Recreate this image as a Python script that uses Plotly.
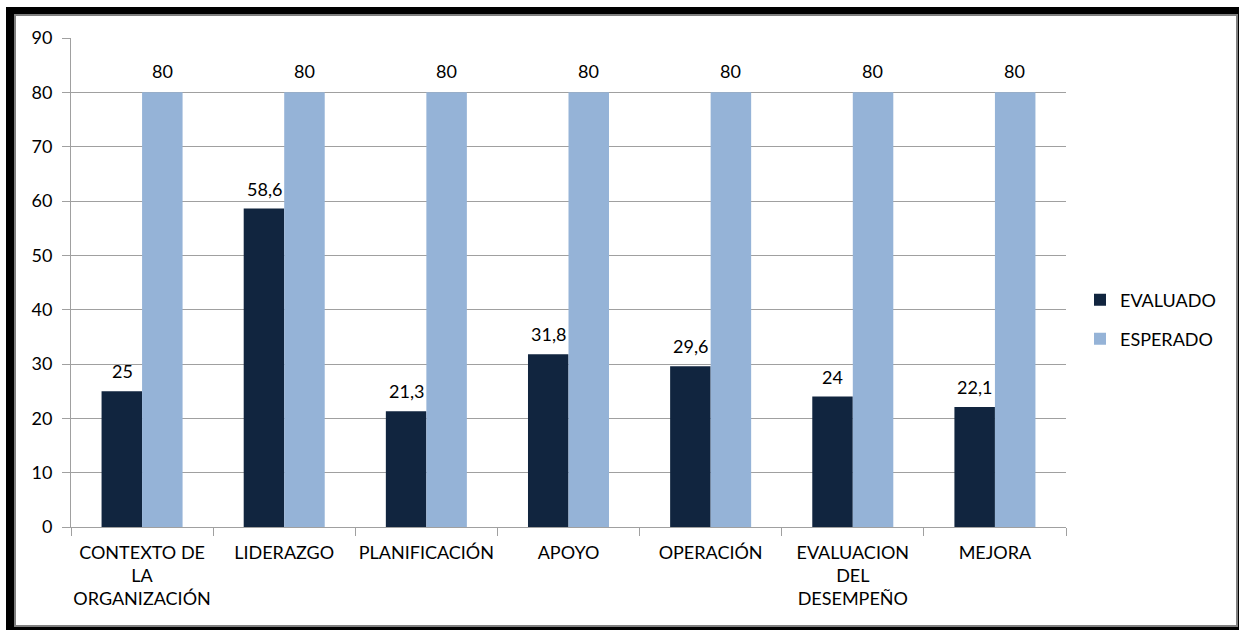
import plotly.graph_objects as go

# Chart data
categorias = ["CONTEXTO DE<br>LA<br>ORGANIZACIÓN", "LIDERAZGO", "PLANIFICACIÓN", "APOYO",
              "OPERACIÓN", "EVALUACION<br>DEL<br>DESEMPEÑO", "MEJORA"]
evaluado = [25, 58.6, 21.3, 31.8, 29.6, 24, 22.1]
esperado = [80, 80, 80, 80, 80, 80, 80]
y_ticks = [0, 10, 20, 30, 40, 50, 60, 70, 80, 90]

COL_EVAL = "#11253F"
COL_ESP = "#95B3D7"
FONT = "Lato"
FS = 18
W, H = 1239, 630
L, R, T, B = 71, 173, 38, 103


def fmt(v):
    s = f"{v:g}"
    return s.replace(".", ",")


fig = go.Figure()
fig.add_trace(go.Bar(x=categorias, y=evaluado, name="EVALUADO", marker_color=COL_EVAL,
                     marker_line_width=0, legend="legend"))
fig.add_trace(go.Bar(x=categorias, y=esperado, name="ESPERADO", marker_color=COL_ESP,
                     marker_line_width=0, legend="legend2"))

# value labels above each bar
annotations = []
for cat, v in zip(categorias, evaluado):
    annotations.append(dict(x=cat, y=v, text=fmt(v), showarrow=False, xshift=-20, yshift=20,
                            font=dict(family=FONT, size=FS, color="#000")))
for cat, v in zip(categorias, esperado):
    annotations.append(dict(x=cat, y=v, text=fmt(v), showarrow=False, xshift=20, yshift=21,
                            font=dict(family=FONT, size=FS, color="#000")))

# frame around the chart
pw = W - L - R
ph = H - T - B


def px_x(p):
    return (p - L) / pw


def px_y(p):
    return (H - B - p) / ph


shapes = [
    dict(type="rect", xref="paper", yref="paper", x0=px_x(6), x1=px_x(1240), y0=px_y(631), y1=px_y(7),
         fillcolor="#000", line_width=0, layer="below"),
    dict(type="rect", xref="paper", yref="paper", x0=px_x(15), x1=px_x(1237), y0=px_y(626), y1=px_y(15),
         fillcolor="#fff", line=dict(color="#808080", width=2), layer="below"),
]

fig.update_layout(
    width=W, height=H,
    margin=dict(l=L, r=R, t=T, b=B),
    paper_bgcolor="#fff", plot_bgcolor="rgba(0,0,0,0)",
    barmode="group", bargap=0.43, bargroupgap=0,
    font=dict(family=FONT, size=FS, color="#000"),
    showlegend=True,
    legend=dict(x=px_x(1080), y=px_y(300), xanchor="left", yanchor="middle",
                bgcolor="rgba(0,0,0,0)", font=dict(family=FONT, size=FS, color="#000")),
    legend2=dict(x=px_x(1080), y=px_y(339), xanchor="left", yanchor="middle",
                 bgcolor="rgba(0,0,0,0)", font=dict(family=FONT, size=FS, color="#000")),
    annotations=annotations,
    shapes=shapes,
)
fig.update_xaxes(
    type="category", range=[-0.5, 6.5], tickson="boundaries", ticks="outside", ticklen=8,
    tickcolor="#a0a0a0", showline=True, linecolor="#a0a0a0", linewidth=1, showgrid=False,
    tickfont=dict(family=FONT, size=FS, color="#000"), tickangle=0, ticklabelstandoff=9,
)
fig.update_yaxes(
    range=[0, 90], tickvals=y_ticks, ticks="outside", ticklen=8, tickcolor="#a0a0a0",
    showline=True, linecolor="#a0a0a0", linewidth=1, showgrid=True, gridcolor="#a0a0a0",
    gridwidth=1, zeroline=False, tickfont=dict(family=FONT, size=FS, color="#000"),
    ticklabelstandoff=6,
)

fig.write_html("out.html")
